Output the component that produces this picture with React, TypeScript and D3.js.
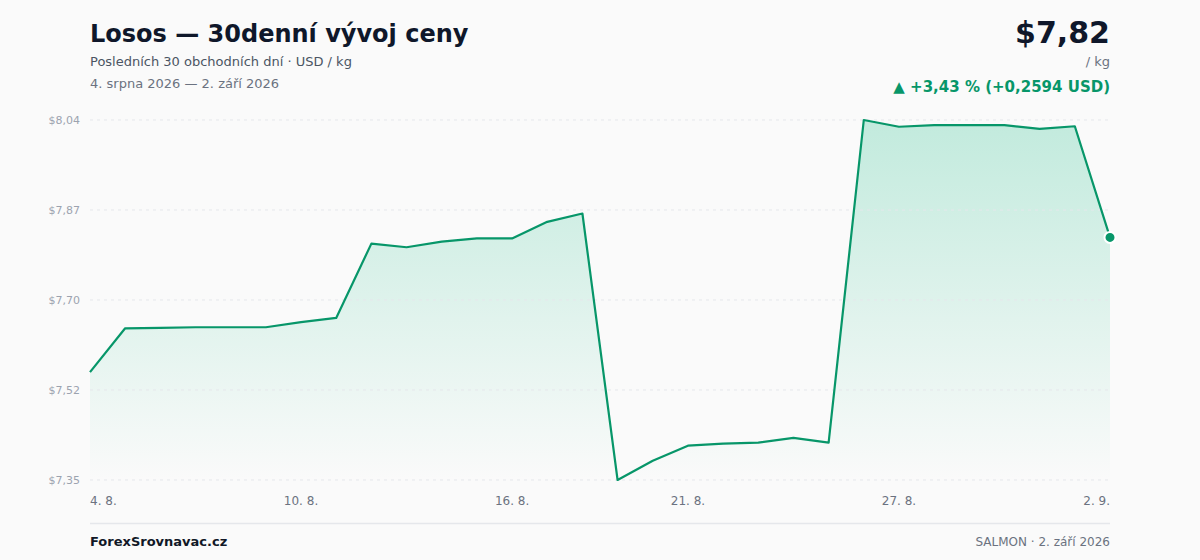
import React from "react";
import * as d3 from "d3";

const WIDTH = 1200;
const HEIGHT = 560;

// daily prices, USD / kg
const dates = [
  "4. 8.", "5. 8.", "6. 8.", "7. 8.", "8. 8.", "9. 8.", "10. 8.", "11. 8.", "12. 8.", "13. 8.",
  "14. 8.", "15. 8.", "16. 8.", "17. 8.", "18. 8.", "19. 8.", "20. 8.", "21. 8.", "22. 8.", "23. 8.",
  "24. 8.", "25. 8.", "26. 8.", "27. 8.", "28. 8.", "29. 8.", "30. 8.", "31. 8.", "1. 9.", "2. 9.",
];
const prices = [
  7.5566, 7.641, 7.642, 7.643, 7.643, 7.643, 7.653, 7.661, 7.804, 7.797,
  7.808, 7.814, 7.814, 7.846, 7.862, 7.349, 7.386, 7.415, 7.419, 7.421,
  7.430, 7.421, 8.042, 8.029, 8.032, 8.032, 8.032, 8.025, 8.030, 7.816,
];
const xTickLabels = ["4. 8.", "10. 8.", "16. 8.", "21. 8.", "27. 8.", "2. 9."];

const GREEN = "#079669";
const FILL = "#10b981";
const FONT = "'DejaVu Sans', Verdana, sans-serif";

const fmt = (v: number, d: number) => v.toFixed(d).replace(".", ",");

export default function App() {
  const left = 90;
  const right = 1110;
  const top = 120;
  const bottom = 480;

  const idx = d3.range(prices.length);
  const x = d3.scaleLinear().domain([0, prices.length - 1]).range([left, right]);
  const [minV, maxV] = d3.extent(prices) as [number, number];
  const y = d3.scaleLinear().domain([minV, maxV]).range([bottom, top]);
  const yTicks = d3.range(5).map((i) => minV + ((maxV - minV) * i) / 4);

  const line = d3.line<number>().x((i) => x(i)).y((i) => y(prices[i]));
  const area = d3
    .area<number>()
    .x((i) => x(i))
    .y0(bottom)
    .y1((i) => y(prices[i]));

  const first = prices[0];
  const last = prices[prices.length - 1];
  const diff = last - first;
  const pct = (diff / first) * 100;

  return (
    <svg
      width={WIDTH}
      height={HEIGHT}
      style={{ position: "absolute", left: 0, top: 0, fontFamily: FONT }}
    >
      <defs>
        <linearGradient id="fillGrad" x1="0" y1={top} x2="0" y2={bottom} gradientUnits="userSpaceOnUse">
          <stop offset="0%" stopColor={FILL} stopOpacity={0.24} />
          <stop offset="100%" stopColor={FILL} stopOpacity={0.0} />
        </linearGradient>
      </defs>
      <rect width={WIDTH} height={HEIGHT} fill="#fafafa" />

      {/* header */}
      <text x={90} y={42} fontSize={24} fontWeight="bold" fill="#0f172a">
        Losos — 30denní vývoj ceny
      </text>
      <text x={90} y={66} fontSize={13} fill="#4b5563">
        Posledních 30 obchodních dní · USD / kg
      </text>
      <text x={90} y={88} fontSize={13} fill="#6b7280">
        4. srpna 2026 — 2. září 2026
      </text>
      <text x={1110} y={43} fontSize={30} fontWeight="bold" fill="#0f172a" textAnchor="end">
        ${fmt(last, 2)}
      </text>
      <text x={1110} y={66} fontSize={13} fill="#6b7280" textAnchor="end">
        / kg
      </text>
      <text x={1110} y={92} fontSize={15} fontWeight="bold" fill={GREEN} textAnchor="end">
        ▲ +{fmt(pct, 2)} % (+{fmt(diff, 4)} USD)
      </text>

      <path d={area(idx) ?? ""} fill="url(#fillGrad)" />

      {/* grid + y labels */}
      {yTicks.map((t) => (
        <g key={t}>
          <line
            x1={left}
            x2={right}
            y1={y(t)}
            y2={y(t)}
            stroke="#e5e7eb"
            strokeDasharray="3 4"
          />
          <text x={80} y={y(t)} dy="0.35em" fontSize={11} fill="#9ca3af" textAnchor="end">
            ${fmt(t, 2)}
          </text>
        </g>
      ))}

      <path d={line(idx) ?? ""} fill="none" stroke={GREEN} strokeWidth={2.2} strokeLinejoin="round" />
      <circle
        cx={x(prices.length - 1)}
        cy={y(last)}
        r={5.5}
        fill={GREEN}
        stroke="#ffffff"
        strokeWidth={2}
      />

      {/* x labels */}
      {xTickLabels.map((lab, k) => {
        const i = dates.indexOf(lab);
        const anchor = k === 0 ? "start" : k === xTickLabels.length - 1 ? "end" : "middle";
        return (
          <text key={lab} x={x(i)} y={505} fontSize={12} fill="#6b7280" textAnchor={anchor}>
            {lab}
          </text>
        );
      })}

      {/* footer */}
      <line x1={left} x2={right} y1={523.5} y2={523.5} stroke="#e5e7eb" strokeWidth={1.5} />
      <text x={90} y={546} fontSize={13} fontWeight="bold" fill="#111827">
        ForexSrovnavac.cz
      </text>
      <text x={1110} y={546} fontSize={12} fill="#6b7280" textAnchor="end">
        SALMON · 2. září 2026
      </text>
    </svg>
  );
}
